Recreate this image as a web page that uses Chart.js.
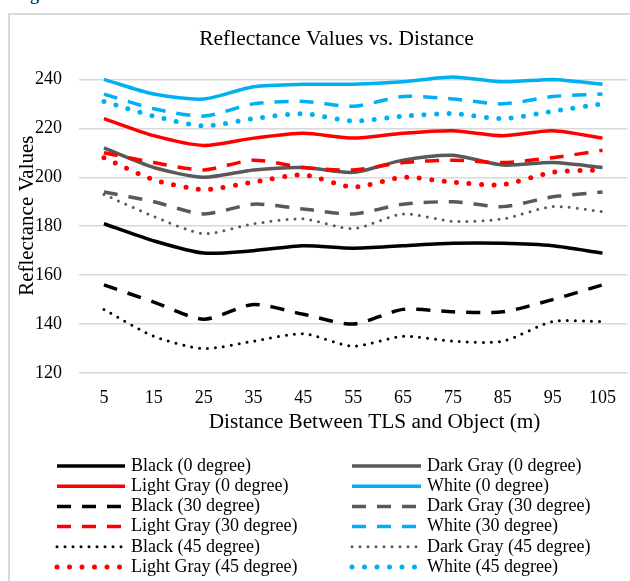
<!DOCTYPE html>
<html>
<head>
<meta charset="utf-8">
<script src="https://cdn.jsdelivr.net/npm/chart.js@4.4.0/dist/chart.umd.min.js"></script>
<style>
html, body { margin: 0; padding: 0; background: #fff; overflow: hidden; }
#fig { position: absolute; left: 15px; top: -15px; font: 18px "Liberation Serif"; line-height: 1.107; color: #000; }
#frame { position: absolute; left: 8px; top: 13px; width: 700px; height: 700px; border: 2px solid #d9d9d9; box-sizing: border-box; }
#wrap { position: absolute; left: 0; top: 0; width: 630px; height: 581px; }
</style>
</head>
<body>
<div id="fig">Figure 6.</div>
<div id="frame"></div>
<div id="wrap"><canvas id="chart"></canvas></div>
<script>
const distances = ['5', '15', '25', '35', '45', '55', '65', '75', '85', '95', '105'];

const black0 = [181, 174, 169, 170, 172, 171, 172, 173, 173, 172, 169];
const darkGray0 = [212, 204, 200, 203, 204, 202, 207, 209, 205, 206, 204];
const lightGray0 = [224, 217, 213, 216, 218, 216, 218, 219, 217, 219, 216];
const white0 = [240, 234, 232, 237, 238, 238, 239, 241, 239, 240, 238];
const black30 = [156, 149, 142, 148, 144, 140, 146, 145, 145, 150, 156];
const darkGray30 = [194, 190, 185, 189, 187, 185, 189, 190, 188, 192, 194];
const lightGray30 = [210, 206, 203, 207, 204, 203, 206, 207, 206, 208, 211];
const white30 = [234, 228, 225, 230, 231, 229, 233, 232, 230, 233, 234];
const black45 = [146, 135, 130, 133, 136, 131, 135, 133, 133, 141, 141];
const darkGray45 = [193, 184, 177, 181, 183, 179, 185, 182, 183, 188, 186];
const lightGray45 = [208, 199, 195, 198, 201, 196, 200, 198, 197, 202, 203];
const white45 = [231, 225, 221, 224, 226, 223, 225, 226, 224, 227, 230];

const yTicks = [120, 140, 160, 180, 200, 220, 240];

const FONT = '"Liberation Serif", "Times New Roman", serif';
const BLACK = '#000000', DGRAY = '#595959', RED = '#ff0000', BLUE = '#00b0f0';
const NB = '\u00a0';

// line style per angle: 0 = solid, 30 = dashed, 45 = dotted
function style(angle, color) {
    if (angle === 0) return { borderColor: color, borderWidth: 3.5, borderDash: [] };
    if (angle === 30) return { borderColor: color, borderWidth: 3.5, borderDash: [14, 11] };
    const big = color === RED || color === BLUE;
    return { borderColor: color, borderWidth: big ? 5 : 3, borderDash: [0, big ? 12.5 : 8], borderCapStyle: 'round' };
}

const series = [
    ['Black (0 degree)', black0, 0, BLACK],
    ['Dark Gray (0 degree)', darkGray0, 0, DGRAY],
    ['Light Gray (0 degree)', lightGray0, 0, RED],
    ['White (0 degree)', white0, 0, BLUE],
    ['Black (30 degree)', black30, 30, BLACK],
    ['Dark Gray (30 degree)', darkGray30, 30, DGRAY],
    ['Light Gray (30 degree)', lightGray30, 30, RED],
    ['White (30 degree)', white30, 30, BLUE],
    ['Black (45 degree)', black45, 45, BLACK],
    ['Dark Gray (45 degree)', darkGray45, 45, DGRAY],
    ['Light Gray (45 degree)', lightGray45, 45, RED],
    ['White (45 degree)', white45, 45, BLUE]
];

const datasets = series.map(([label, data, angle, color], i) => Object.assign({
    label: label,
    data: data,
    fill: false,
    pointRadius: 0,
    pointHoverRadius: 0,
    tension: 0.25,
    clip: 8,
    order: -i
}, style(angle, color)));

// two-column legend drawn under the plot, row by row like the original
const gridLegend = {
    id: 'gridLegend',
    afterDraw(chart) {
        const ctx = chart.ctx;
        ctx.save();
        ctx.font = '18px ' + FONT;
        ctx.textBaseline = 'middle';
        chart.data.datasets.forEach((ds, i) => {
            const col = i % 2;
            const row = Math.floor(i / 2);
            const x0 = col ? 352 : 57;
            const x1 = col ? 421 : 125;
            const y = 466 + row * 20.2;
            ctx.strokeStyle = ds.borderColor;
            ctx.lineWidth = ds.borderWidth;
            ctx.lineCap = ds.borderCapStyle || 'butt';
            ctx.setLineDash(ds.borderDash);
            ctx.beginPath();
            ctx.moveTo(x0, y);
            ctx.lineTo(x1, y);
            ctx.stroke();
            ctx.setLineDash([]);
            ctx.fillStyle = '#000';
            ctx.fillText(ds.label, x1 + 6, y);
        });
        ctx.restore();
    }
};

const ctx = document.getElementById('chart').getContext('2d');

const chart = new Chart(ctx, {
    type: 'line',
    data: {
        labels: distances,
        datasets: datasets
    },
    options: {
        responsive: true,
        maintainAspectRatio: false,
        animation: false,
        events: [],
        layout: {
            padding: { left: 0, right: 0, top: 0, bottom: 146 }
        },
        plugins: {
            legend: { display: false },
            tooltip: { enabled: false },
            title: {
                display: true,
                text: NB.repeat(8) + 'Reflectance Values vs. Distance',
                color: '#000',
                font: { family: FONT, size: 21.5, weight: 'normal' },
                padding: { top: 26.4, bottom: 27.2 }
            }
        },
        scales: {
            x: {
                type: 'category',
                offset: true,
                grid: { display: false, drawTicks: false },
                border: { display: false },
                ticks: {
                    color: '#000',
                    font: { family: FONT, size: 18 },
                    padding: 14,
                    maxRotation: 0,
                    autoSkip: false
                },
                title: {
                    display: true,
                    text: NB.repeat(8) + 'Distance Between TLS and Object (m)',
                    color: '#000',
                    font: { family: FONT, size: 21.3, weight: 'normal' },
                    padding: { top: 0, bottom: 0 }
                },
                afterFit(scale) { scale.height = 62; }
            },
            y: {
                min: yTicks[0],
                max: yTicks[yTicks.length - 1],
                grid: { color: '#d9d9d9', lineWidth: 1.5, drawTicks: false },
                border: { display: false },
                ticks: {
                    stepSize: 20,
                    color: '#000',
                    font: { family: FONT, size: 18 },
                    padding: 17
                },
                afterBuildTicks(scale) { scale.ticks = yTicks.map(v => ({ value: v })); },
                title: {
                    display: true,
                    text: NB.repeat(4) + 'Reflectance Values',
                    color: '#000',
                    font: { family: FONT, size: 21, weight: 'normal' },
                    padding: { top: 14.4, bottom: 0 }
                },
                afterFit(scale) { scale.width = 79; }
            }
        }
    },
    plugins: [gridLegend]
});
</script>
</body>
</html>
